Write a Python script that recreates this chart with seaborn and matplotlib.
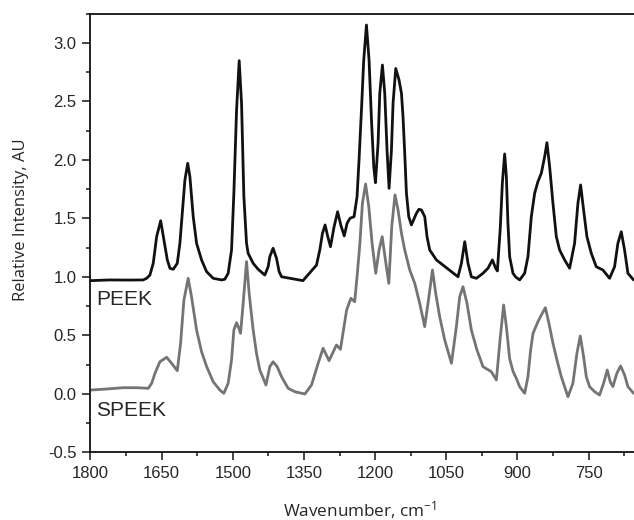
import matplotlib
matplotlib.use("Agg")
import matplotlib.pyplot as plt
from matplotlib.ticker import MultipleLocator
import seaborn as sns
import pandas as pd

# FTIR spectra (offset for clarity): wavenumber in cm^-1, relative intensity in AU
peek_wn = [1800, 1759, 1720, 1689, 1681.6, 1674.7, 1667.7, 1660.5, 1652, 1645.2, 1638,
           1632.5, 1625.5, 1617, 1611.5, 1605.8, 1600.9, 1595, 1590.4, 1583.4, 1576.3,
           1565.8, 1555.2, 1541.3, 1523.6, 1516.7, 1509.7, 1502.6, 1497.7, 1492, 1486.5,
           1481.5, 1476.6, 1471, 1467.6, 1457, 1446.5, 1432.4, 1425.4, 1421.9, 1415,
           1407.8, 1402.3, 1397, 1379.7, 1352, 1323.5, 1316.5, 1310.9, 1305.4, 1299.7,
           1294, 1286.4, 1279, 1272.3, 1265, 1259, 1253, 1244.3, 1238, 1233.8, 1228.7,
           1223.9, 1218.2, 1212.7, 1207.6, 1202.8, 1199.2, 1193.7, 1190.1, 1184.5, 1179.6,
           1174.8, 1170.5, 1165.5, 1162.1, 1156.4, 1149.5, 1144.4, 1141.1, 1137.5, 1133.9,
           1129, 1123.4, 1112.8, 1107.4, 1102.3, 1095.3, 1090.5, 1084.8, 1070.7, 1056.8,
           1039, 1025.2, 1018, 1011, 1004.1, 997, 986.4, 972.5, 962, 952.7, 945.8, 942.2,
           935.9, 931.7, 926.8, 923.2, 919.9, 916.3, 909.3, 904, 895.2, 884.7, 877.7,
           870.6, 863.6, 856.7, 849.5, 842.5, 837.7, 832, 825, 817.9, 811, 800.4, 789.9,
           779.4, 772.4, 766.7, 760.4, 753.4, 744.2, 733.7, 719.7, 705.6, 695.1, 688.1,
           681, 674, 667, 655]
peek_ai = [0.967, 0.973, 0.972, 0.973, 0.987, 1.015, 1.115, 1.343, 1.479, 1.315, 1.144,
           1.073, 1.064, 1.115, 1.286, 1.571, 1.827, 1.970, 1.856, 1.514, 1.286,
           1.144, 1.044, 0.987, 0.973, 0.979, 1.030, 1.229, 1.714, 2.426, 2.847,
           2.483, 1.685, 1.286, 1.201, 1.115, 1.064, 1.015, 1.086, 1.172, 1.244,
           1.158, 1.044, 1.000, 0.987, 0.967, 1.100, 1.230, 1.372, 1.443, 1.343,
           1.257, 1.428, 1.556, 1.443, 1.349, 1.457, 1.500, 1.514, 1.685, 2.000, 2.426,
           2.853, 3.152, 2.853, 2.341, 1.941, 1.804, 2.141, 2.568, 2.810, 2.568,
           2.084, 1.756, 2.084, 2.483, 2.780, 2.682, 2.568, 2.368, 2.056, 1.714,
           1.514, 1.443, 1.543, 1.577, 1.571, 1.514, 1.343, 1.229, 1.144, 1.100,
           1.044, 1.000, 1.115, 1.300, 1.115, 1.000, 0.987, 1.030, 1.073, 1.144, 1.073, 1.050,
           1.428, 1.799, 2.050, 1.856, 1.457, 1.172, 1.030, 1.000, 0.973, 1.030, 1.172,
           1.514, 1.714, 1.813, 1.885, 2.027, 2.146, 1.941, 1.628, 1.343, 1.230, 1.144, 1.073,
           1.286, 1.628, 1.785, 1.571, 1.343, 1.201, 1.086, 1.058, 0.987, 1.086, 1.286,
           1.385, 1.229, 1.030, 0.973]

speek_wn = [1800, 1765.9, 1731, 1702.7, 1678, 1671, 1664, 1653.6, 1639.5, 1628.9, 1617,
            1610, 1603, 1594, 1587, 1576.3, 1565.8, 1555, 1541.3, 1527.2, 1518.8, 1509.7,
            1502.6, 1497.7, 1492, 1487.2, 1483.6, 1478.1, 1471, 1465.5, 1457, 1450, 1443,
            1430, 1421.9, 1415, 1406.5, 1397.2, 1383.3, 1369.2, 1348, 1334, 1320, 1309.6,
            1297, 1281.4, 1273, 1260, 1251, 1243, 1238, 1232, 1226.7, 1220, 1213.3, 1206.3,
            1198.6, 1191.6, 1185, 1178.2, 1171, 1164.9, 1158, 1151.6, 1144.4, 1137.5,
            1126.9, 1116.4, 1105.9, 1095.4, 1088.4, 1079, 1072.2, 1063.8, 1053.2, 1039,
            1028.6, 1021.6, 1014.7, 1006.2, 997, 985.2, 972.5, 955, 944.3, 935.9, 929,
            923.2, 916.3, 909, 902, 895.2, 884.7, 877.7, 872.1, 867, 856.7, 849.5, 841,
            833.5, 825, 816.6, 807.4, 793.4, 782.9, 774.5, 767.4, 760.4, 754.7, 747.8,
            737.2, 726.7, 718.2, 710.5, 704.2, 698.7, 690.3, 682.5, 674, 667, 655]
speek_ai = [0.032, 0.041, 0.052, 0.052, 0.047, 0.090, 0.175, 0.274, 0.312, 0.261, 0.197,
            0.432, 0.802, 0.987, 0.830, 0.545, 0.360, 0.232, 0.103, 0.032, 0.004, 0.090,
            0.289, 0.545, 0.608, 0.560, 0.517, 0.773, 1.130, 0.859, 0.545, 0.346, 0.203,
            0.075, 0.232, 0.274, 0.232, 0.146, 0.047, 0.018, -0.002, 0.075, 0.261, 0.389,
            0.283, 0.417, 0.380, 0.716, 0.816, 0.787, 1.000, 1.286, 1.628, 1.793, 1.600, 1.286,
            1.030, 1.229, 1.343, 1.144, 0.944, 1.428, 1.700, 1.571, 1.372, 1.229,
            1.058, 0.944, 0.773, 0.574, 0.773, 1.058, 0.859, 0.659, 0.460, 0.261,
            0.574, 0.830, 0.915, 0.773, 0.545, 0.374, 0.232, 0.189, 0.118, 0.488, 0.759,
            0.574, 0.300, 0.190, 0.130, 0.061, 0.004, 0.146, 0.374, 0.517, 0.616, 0.673, 0.736,
            0.603, 0.432, 0.289, 0.146, -0.025, 0.090, 0.346, 0.494, 0.317, 0.146, 0.061,
            0.018, -0.010, 0.090, 0.203, 0.103, 0.061, 0.175, 0.238, 0.161, 0.061, 0.004]

sample_names = ["PEEK", "SPEEK"]
x_ticks = [1800, 1650, 1500, 1350, 1200, 1050, 900, 750]
y_ticks = [-0.5, 0.0, 0.5, 1.0, 1.5, 2.0, 2.5, 3.0]

df = pd.concat([
    pd.DataFrame({"wavenumber": peek_wn, "intensity": peek_ai, "sample": sample_names[0]}),
    pd.DataFrame({"wavenumber": speek_wn, "intensity": speek_ai, "sample": sample_names[1]}),
], ignore_index=True)

sns.set_style("ticks")
plt.rcParams["font.family"] = ["Liberation Sans", "DejaVu Sans"]
plt.rcParams["mathtext.default"] = "regular"

fig = plt.figure(figsize=(6.34, 5.2), dpi=100)
ax = fig.add_axes([0.1427, 0.1302, 0.8604, 0.8438])

sns.lineplot(data=df, x="wavenumber", y="intensity", hue="sample",
             palette={"PEEK": "#111111", "SPEEK": "#747474"},
             estimator=None, sort=False, linewidth=2.0, legend=False, ax=ax)
for line in ax.lines:
    line.set_solid_joinstyle("round")
    line.set_solid_capstyle("round")

ax.set_xlim(1800, 650)
ax.set_ylim(-0.5, 3.25)
ax.set_xticks(x_ticks)
ax.set_yticks(y_ticks)
ax.set_yticklabels([f"{v:.1f}" for v in y_ticks])
ax.xaxis.set_minor_locator(MultipleLocator(75))
ax.yaxis.set_minor_locator(MultipleLocator(0.25))
ax.tick_params(which="major", direction="out", length=6, width=1.2, labelsize=12, pad=4)
ax.tick_params(which="minor", direction="out", length=3, width=1.2)
for side in ["left", "top", "bottom"]:
    ax.spines[side].set_linewidth(1.3)
    ax.spines[side].set_color("#111111")
ax.spines["right"].set_visible(False)

ax.set_xlabel(r"Wavenumber, cm$^{-1}$", family=["Open Sans", "DejaVu Sans"], fontsize=12.3)
ax.set_ylabel("Relative Intensity, AU", family=["Open Sans", "DejaVu Sans"], fontsize=12)
ax.xaxis.set_label_coords(0.494, -0.106)
ax.yaxis.set_label_coords(-0.113, 0.529)

ax.text(1788, 0.81, "PEEK", fontsize=15, ha="left", va="center")
ax.text(1788, -0.144, "SPEEK", fontsize=15, ha="left", va="center")

fig.savefig("out.png", dpi=100)
